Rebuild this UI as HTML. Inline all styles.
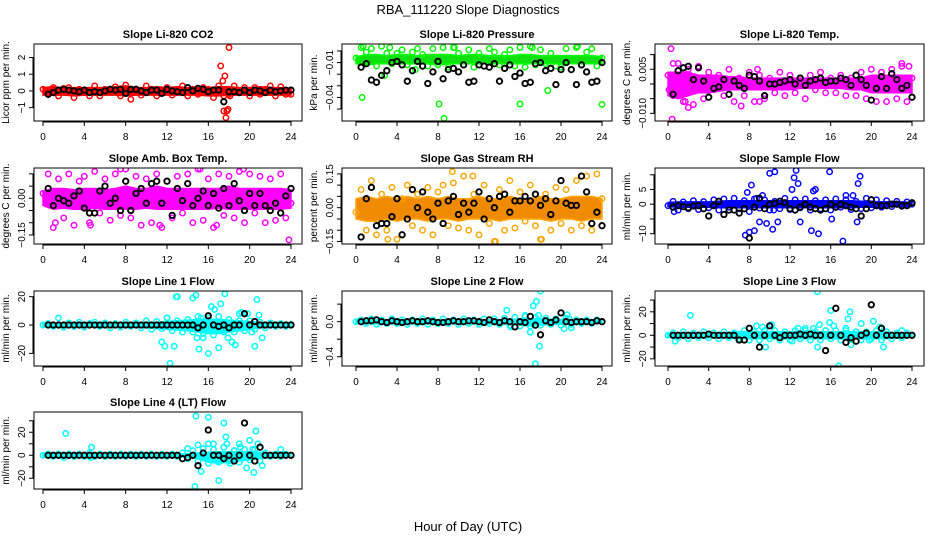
<!DOCTYPE html>
<html><head><meta charset="utf-8"><style>
body{margin:0;background:#fff;}
svg{display:block;font-family:"Liberation Sans",sans-serif;}
</style></head><body>
<svg id="chart" width="936" height="540" viewBox="0 0 936 540" xmlns="http://www.w3.org/2000/svg">
<text x="468" y="14" font-size="13" text-anchor="middle">RBA_111220  Slope Diagnostics</text>
<text x="468" y="531" font-size="13" text-anchor="middle">Hour of Day (UTC)</text>
</svg>
<script>
const xTicks=[0,4,8,12,16,20,24];
const c1=[0.1,-0.2,0.2,-0.3,0.15,0.2,-0.4,0.1,-0.1,-0.3,0.3,-0.3,0.1,0,0.25,-0.3,0.35,-0.5,0.1,-0.25,0.3,0.1,-0.3,0,0.2,-0.25,0.1,0.3,-0.3,0.1,-0.2,0.2,0.1,-0.4,0.3,-0.3,-0.2,0.3,-0.1,0.2,-0.3,0.2,-0.2,0.1,0.3,-0.3,0.25,-0.2,-0.2];
const b1hi=[0.2,0.25,0.2,0.2,0.2,0.2,0.2,0.25,0.3,0.2,0.2,0.25,0.2,0.25,0.2,0.2,0.2,0.25,0.25,0.2,0.2,0.25,0.2,0.2,0.15];
const b1lo=[-0.25,-0.25,-0.25,-0.3,-0.25,-0.25,-0.25,-0.25,-0.3,-0.25,-0.25,-0.25,-0.25,-0.25,-0.25,-0.25,-0.3,-0.3,-0.25,-0.25,-0.25,-0.25,-0.25,-0.25,-0.25];
const o1x=[17.2,17.4,17.6,17.5,17.7,17.8,17.9,18.0,18.1];
const o1y=[1.5,0.6,0.9,-1.2,-1.6,-1.2,-1.1,2.6,-0.3];
const k1=[-0.2,-0.1,0.05,0.1,0.05,0,-0.05,0.05,-0.1,-0.05,-0.1,0,0.1,0.05,0.1,-0.15,0.1,0.1,0,-0.1,0.05,0.05,-0.15,0.1,0,-0.05,-0.1,0.2,0,0.15,0.1,-0.05,0.05,0.05,-0.65,-0.05,-0.05,-0.1,0.05,-0.1,0.05,0,-0.1,0.05,-0.05,0,0.05,0.05];

const c2=[-0.006,0.003,-0.001,0.002,-0.013,0.004,-0.002,-0.011,-0.002,0.001,-0.012,-0.001,0.002,-0.003,-0.013,0.002,-0.012,0.003,-0.014,0.003,-0.002,-0.012,0.001,-0.014,-0.002,-0.013,0.002,-0.001,-0.012,-0.003,0.001,-0.013,0.003,-0.014,0.004,-0.012,0.001,-0.011,-0.002,-0.013,-0.014,0.002,-0.016,0.003,-0.012,-0.001,0.002,-0.013,-0.006];
const b2hi=[-0.005,-0.003,-0.003,-0.004,-0.003,-0.003,-0.004,-0.003,-0.003,-0.003,-0.004,-0.003,-0.003,-0.004,-0.004,-0.004,-0.003,-0.003,-0.004,-0.004,-0.004,-0.004,-0.004,-0.004,-0.005];
const b2lo=[-0.011,-0.012,-0.011,-0.011,-0.011,-0.011,-0.011,-0.011,-0.012,-0.011,-0.011,-0.011,-0.011,-0.011,-0.011,-0.011,-0.011,-0.011,-0.011,-0.011,-0.011,-0.011,-0.011,-0.011,-0.011];
const o2x=[0.6,8.1,8.6,16.0,24.0,18.7,2.8,5.8,0.7,3.3,9.6,17.2,21.6];
const o2y=[-0.040,-0.0457,-0.058,-0.0457,-0.046,-0.034,-0.021,-0.016,0.004,0.003,0.003,0.003,0.004];
const k2=[-0.014,-0.011,-0.025,-0.027,-0.021,-0.017,-0.01,-0.009,-0.012,-0.026,-0.017,-0.009,-0.013,-0.028,-0.018,-0.009,-0.024,-0.016,-0.015,-0.018,-0.012,-0.027,-0.026,-0.012,-0.013,-0.014,-0.011,-0.026,-0.015,-0.012,-0.022,-0.019,-0.028,-0.027,-0.011,-0.010,-0.017,-0.015,-0.029,-0.016,-0.010,-0.016,-0.029,-0.012,-0.018,-0.027,-0.026,-0.010];

const c3=[0.003,-0.004,0.007,-0.006,0.005,-0.007,0.006,-0.005,0.004,-0.002,0.003,-0.004,0.005,-0.006,0.002,-0.004,0.004,-0.006,0.003,-0.005,0.002,-0.003,0.004,-0.004,0.003,-0.003,0.002,-0.005,0.003,-0.002,0.004,-0.003,0.002,-0.003,0.003,-0.004,0.002,-0.004,0.004,-0.005,0.005,-0.006,0.004,-0.006,0.005,-0.005,0.006,-0.006,0.002];
const b3hi=[0.004,0.004,0.004,0.003,0.003,0.003,0.0025,0.0025,0.002,0.002,0.002,0.002,0.002,0.002,0.002,0.002,0.002,0.002,0.002,0.002,0.003,0.003,0.003,0.003,0.003];
const b3lo=[-0.004,-0.005,-0.004,-0.003,-0.003,-0.0025,-0.002,-0.002,-0.002,-0.002,-0.002,-0.002,-0.002,-0.0015,-0.0015,-0.0015,-0.0015,-0.0015,-0.002,-0.002,-0.003,-0.003,-0.003,-0.003,-0.003];
const o3x=[0.3,0.4,0.5,2.0,1.7,7.2,9.0,8.8,23.0,23.7,0.1];
const o3y=[0.012,-0.012,0.007,-0.008,-0.006,-0.0075,-0.006,0.005,0.007,0.006,-0.002];
const k3=[-0.0035,0.0045,0.0055,0.006,0.0015,0.0055,0.001,-0.0045,-0.0015,-0.001,0.0015,-0.0035,0.001,-0.0005,-0.0015,0.003,0.0025,0.001,-0.004,0,0,0.0005,0.001,0.0015,0,0.002,-0.0005,0.001,0.0015,0.002,0.0005,0.001,0.001,0.002,0.0015,-0.0005,0.003,0.0015,-0.0005,-0.0055,-0.0015,0.0025,-0.0015,0.0035,0.0015,-0.0015,-0.0005,-0.0045];

const c4=[0.02,0.1,-0.12,0.08,-0.08,0.1,-0.11,0.07,0.09,-0.1,0.11,-0.06,0.08,-0.09,0.1,-0.07,0.12,-0.08,0.09,-0.11,0.08,-0.1,0.1,-0.12,0.07,-0.08,0.09,-0.06,0.1,-0.1,0.12,-0.09,0.08,-0.12,0.1,-0.07,0.09,-0.08,0.11,-0.1,0.1,-0.06,0.09,-0.1,0.08,-0.09,0.1,-0.08,-0.02];
const b4hi=[0.03,0.04,0.04,0.035,0.04,0.04,0.035,0.04,0.05,0.04,0.04,0.05,0.04,0.04,0.04,0.04,0.04,0.04,0.05,0.04,0.04,0.04,0.04,0.04,0.035];
const b4lo=[-0.03,-0.045,-0.04,-0.045,-0.045,-0.04,-0.045,-0.045,-0.045,-0.045,-0.04,-0.045,-0.045,-0.045,-0.045,-0.045,-0.045,-0.04,-0.045,-0.045,-0.045,-0.045,-0.045,-0.045,-0.04];
const o4x=[23.8,7.5,15.2,19.4,16.8,11.3,4.6,1.2];
const o4y=[-0.17,0.12,0.12,0.12,-0.11,-0.11,-0.11,-0.1];
const k4=[0.04,-0.03,0.0,-0.01,-0.02,0.01,0.03,-0.04,-0.06,-0.06,0.03,0.05,-0.02,0.0,-0.05,0.07,-0.05,0.02,0.04,-0.02,0.06,0.07,-0.02,0.07,-0.07,0.04,-0.01,0.06,-0.03,0.0,0.03,-0.03,0.02,-0.04,0.04,-0.03,0.06,-0.01,-0.05,0.02,-0.03,0.02,-0.03,-0.05,-0.02,-0.06,0.01,0.04];

const c5=[-0.02,0.08,-0.1,0.12,-0.12,0.06,-0.1,0.09,-0.14,0.04,0.1,-0.08,0.06,-0.1,0.09,-0.12,0.07,0.1,-0.08,0.11,-0.09,0.14,-0.1,0.06,-0.12,0.1,-0.07,-0.15,0.08,-0.1,0.12,-0.09,0.07,-0.06,0.1,-0.08,-0.14,0.06,-0.1,0.09,-0.07,0.08,-0.1,0.12,-0.08,0.14,-0.1,0.15,0.04];
const b5hi=[0.04,0.05,0.04,0.05,0.04,0.05,0.04,0.05,0.04,0.05,0.04,0.04,0.05,0.04,0.04,0.05,0.04,0.04,0.05,0.04,0.04,0.05,0.05,0.05,0.04];
const b5lo=[-0.05,-0.06,-0.06,-0.05,-0.06,-0.05,-0.05,-0.06,-0.05,-0.05,-0.06,-0.05,-0.05,-0.05,-0.06,-0.05,-0.05,-0.05,-0.05,-0.06,-0.05,-0.05,-0.06,-0.05,-0.05];
const o5x=[9.4,13.6,18.1,3.1,11.4];
const o5y=[0.16,-0.15,-0.14,-0.14,0.14];
const k5=[-0.13,0.04,0.09,-0.08,-0.07,-0.07,-0.04,0.04,-0.12,-0.05,0.08,0.0,0.07,-0.02,-0.05,0.02,-0.07,0.03,0.05,-0.03,0.02,-0.02,0.02,0.07,-0.05,0.04,0.0,0.05,0.06,-0.02,0.03,0.03,0.05,0.03,0.06,0.01,0.04,-0.03,0.03,0.12,0.02,0.01,0.01,0.14,0.07,-0.07,-0.02,-0.08];

const c6=[-0.5,1,-2,0.8,-1.5,1.2,-1.8,0.9,-1.2,1.5,-2,1.8,-1,2,-1.5,1.2,-2.5,1.8,-1.3,1.5,-2,1,-1.5,2,-1.8,1.5,-1.2,1.8,-2,1.2,-1.5,1.5,-2,1.8,-1,1.5,-1.8,1,-1.5,2,-1.2,1.5,-1,1.2,-0.8,1,-0.7,0.8,0];
const b6hi=[0.6,0.8,0.8,0.8,0.8,1,1.2,1.2,1.2,1.2,1.2,1.2,1.2,1.2,1.2,1.2,1.2,1.2,1.2,1,1,0.8,0.8,0.8,0.6];
const b6lo=[-0.8,-1,-1,-1,-1,-1.2,-1.2,-1.2,-1.2,-1.2,-1.2,-1.2,-1.2,-1.2,-1.2,-1.2,-1.2,-1.2,-1.2,-1,-1,-0.8,-0.8,-0.8,-0.8];
const o6x=[0.6,7.6,8.0,8.2,7.8,8.5,9.0,9.3,9.7,10.0,10.3,10.5,10.8,12.2,12.4,12.6,12.8,13.0,14.1,14.3,14.5,14.8,15.9,16.1,17.2,17.5,18.6,18.7,18.9,18.2,8.7,10.4];
const o6y=[-2.5,-10.5,-9.5,6.5,4,-9,-6,3,-6.5,10.5,-8.5,11,-6,5,9,11.5,7,-6,-9,4.5,5,-10,11,-5,-12.5,3,-6,7,9.5,3,2,-2];
const k6=[-1,-0.5,-0.8,-1.2,-0.6,-0.5,-1.5,-4,-0.5,1,-3.5,-2,-2,-3,-1.5,-11.5,-1,2,-1.5,0,0.3,1,0.5,-1.5,-2,-1,0,-1,-1.5,-2,-1.5,0,-1,0,-0.5,-1,-1.5,-4,-1.5,1.5,-0.5,-0.5,-0.5,0,0,-0.5,-0.5,0.5];

const c7=[0,1,-1,5,-1.5,1.5,-1,2,-1.5,1,2,-1,1.5,-2,1,-1.5,2,-1,1.5,-2,3,-3,2.5,-2.5,5,-4,3,-5,4,-5,6,-6,5,-7,6,-5,4,-5,3,-4,3,-3,2,-2,1.5,-1,1,-1,0.5];
const b7hi=[1,1,1,1,1,1,1,1,1.5,1.5,2,2,2.5,3,3.5,4,4,4,3.5,3,2.5,2,1.5,1.5,1];
const b7lo=[-1,-1,-1,-1,-1,-1,-1,-1,-1.5,-1.5,-2,-2.5,-3,-3.5,-4,-5,-6,-6,-5,-4,-3,-2,-1.5,-1.5,-1];
const o7x=[11.5,11.8,12.3,12.7,12.9,13.0,14.5,14.8,15.1,14.9,15.5,16.0,16.3,16.6,17.0,17.2,17.6,17.9,18.3,18.6,19.0,19.2,19.8,20.2,20.5,20.7,20.9,21.2,12.0,15.3];
const o7y=[-12,-15,-27,-15,20,20,19,21,-17,-9,-9,-20,13,11,-16,15,22,-9,-12,-14,8,9,8,-5,-15,18,7,-9,5,5];
const k7=[0,0,0,0,0,0,0,0,0,0,0,0,0,0,0,0,0,0,0,0,0,0,0,0,0,0,0,0,0,-2,0,6.5,0,-1,0,-2,0,0,8,0,2.5,0,0,0,0,0,0,0];

const c8=[0,0.02,-0.02,0.03,-0.03,0.02,-0.02,0.03,-0.02,0.02,-0.03,0.02,-0.02,0.03,-0.03,0.02,-0.02,0.03,-0.02,0.02,-0.03,0.03,-0.02,0.02,-0.03,0.03,-0.02,0.03,-0.03,0.04,-0.04,0.05,-0.05,0.06,-0.05,0.05,-0.04,0.04,-0.03,0.03,-0.04,0.04,-0.03,0.02,-0.02,0.02,-0.02,0.02,0];
const b8hi=[0.015,0.02,0.02,0.02,0.02,0.02,0.02,0.02,0.02,0.02,0.02,0.02,0.02,0.02,0.02,0.025,0.03,0.035,0.03,0.03,0.025,0.02,0.02,0.02,0.015];
const b8lo=[-0.02,-0.025,-0.025,-0.025,-0.025,-0.025,-0.025,-0.025,-0.025,-0.025,-0.025,-0.025,-0.025,-0.025,-0.025,-0.03,-0.04,-0.05,-0.04,-0.03,-0.03,-0.025,-0.025,-0.025,-0.02];
const o8x=[14.7,15.1,16.5,17.0,17.3,17.5,17.6,17.8,17.9,18.0,20.3,20.6,21.0,20.8];
const o8y=[0.13,-0.06,0.07,-0.12,0.18,-0.48,0.23,0.07,-0.28,0.35,-0.08,0.08,-0.07,0.03];
const k8=[0,0.01,0.01,0.02,0,-0.01,0.01,0,-0.01,0,0.01,0,0,0.01,0,-0.01,-0.01,0,0.01,0,0,0.01,0.01,0,-0.01,0.02,0,-0.01,0.01,0,-0.06,0,-0.01,0.06,-0.04,-0.15,0.01,-0.01,0.02,0.1,0,-0.01,0,0,0,-0.01,0.01,0];

const c9=[0,2,-2,3,-3,2,-2,3,-2,2,-3,3,-2,2,-3,4,-4,3,-4,4,-3,4,-4,3,-4,4,-3,4,-4,3,-4,4,-3,4,-4,4,-3,3,-4,3,-3,4,-4,3,-3,2,-2,2,0];
const b9hi=[1.5,2,2,2,2,2,2.5,3,3,3,3,3,3,3,3,3,3,3,3,3,3,3,2.5,2,1.5];
const b9lo=[-1.5,-2,-2,-2,-2,-2,-2.5,-3,-3,-3,-3,-3,-3,-3,-3,-3,-3,-3,-3,-3,-3,-3,-2.5,-2,-1.5];
const o9x=[2.2,0.7,8.7,9.3,9.0,9.6,10.2,12.2,12.8,13.5,14.3,14.7,14.7,14.9,15.5,15.9,16.0,16.3,16.8,17.5,17.7,17.9,18.0,19.0,19.8,20.2,20.8,21.2,23.0];
const o9y=[17,-5,8,7,-10,-10,9,-5,6,6,6,-10,37,9,-13,11,21,8,-26,6,14,20,-8,10,-4,12,7,-10,4];
const k9=[0,0,0,0,0,0,0,1,0,0,0,0,0,-4,-4,6,0,-10,0,8,0,-2,0,0,0,1,0,1,0,0,-13,0,23,0,-6,-2,-5,0,2,26,0,6,0,0,0,0,0,0];

const c10=[0,1,-1,1,-2,1,-1,1,-1,2,-1,1,-1,1,-1,1,-1,1,-1,1,-1,1,-1,1,-1,1,-1,2,-3,4,-5,6,-7,5,-6,7,-5,4,-6,5,-4,5,-5,2,-1,1,-1,1,0];
const b10hi=[1,1,1,1,1,1,1,1,1,1,1,1,1,1,1.5,2,2.5,3,3,3,3,2.5,1.5,1,1];
const b10lo=[-1,-1,-1,-1,-1,-1,-1,-1,-1,-1,-1,-1,-1,-1,-2,-3,-6,-7,-6,-5,-4,-3,-1.5,-1,-1];
const o10x=[2.2,4.7,14.0,14.7,14.8,15.0,15.3,16.0,16.0,16.5,17.0,17.5,17.7,17.8,18.1,18.5,19.0,19.1,19.7,20.0,20.3,20.4,20.6,20.8,21.2,23.0,4.6];
const o10y=[19,7,6,-27,34,9,-14,33,10,10,-22,28,16,10,-7,4,10,7,-11,13,5,-15,21,10,-9,5,-2];
const k10=[0,0,0,0,0,0,0,0,0,0,0,0,0,0,0,0,0,0,0,0,0,0,0,0,0,0,-3,-2,0,-9,2,22,0,0,-3,0,-5,0,28,0,-5,7,0,0,0,0,0,0];

const cols=[{l:34,r:302,x0:43,x1:291},{l:342,r:612,x0:356,x1:602},{l:655,r:924,x0:668,x1:912}];
const rows=[{t:44,b:121},{t:168,b:244},{t:291,b:366},{t:412,b:489}];
const svg=document.getElementById('chart');
const NS='http://www.w3.org/2000/svg';
function mk(tag,attrs,parent){const e=document.createElementNS(NS,tag);for(const k in attrs)e.setAttribute(k,attrs[k]);(parent||svg).appendChild(e);return e;}

const panels=[
 {name:'co2',title:'Slope Li-820 CO2',ylab:'Licor ppm per min.',r:0,c:0,ymin:-1.80,ymax:2.81,ticks:[-1,0,1,2],labels:['−1','0','1','2'],col:'#ff0000',band:'#ff0000',pts:c1,hi:b1hi,lo:b1lo,ox:o1x,oy:o1y,k:k1},
 {name:'pressure',title:'Slope Li-820 Pressure',ylab:'kPa per min.',r:0,c:1,ymin:-0.0603,ymax:0.006,ticks:[0,-0.01,-0.02,-0.03,-0.04,-0.05],labels:['','−0.01','','','−0.04',''],col:'#00ff00',band:'#10e010',pts:c2,hi:b2hi,lo:b2lo,ox:o2x,oy:o2y,k:k2},
 {name:'li820-temp',title:'Slope Li-820 Temp.',ylab:'degrees C per min.',r:0,c:2,ymin:-0.0126,ymax:0.0136,ticks:[0.01,0.005,0,-0.005,-0.01],labels:['','0.005','','','−0.010'],col:'#ff00ff',band:'#ff00ff',pts:c3,hi:b3hi,lo:b3lo,ox:o3x,oy:o3y,k:k3},
 {name:'amb-box-temp',title:'Slope Amb. Box Temp.',ylab:'degrees C per min.',r:1,c:0,ymin:-0.187,ymax:0.124,ticks:[0.1,0.05,0,-0.05,-0.1,-0.15],labels:['','','0.00','','','−0.15'],col:'#ff00ff',band:'#ff00ff',pts:c4,hi:b4hi,lo:b4lo,ox:o4x,oy:o4y,k:k4},
 {name:'gas-stream-rh',title:'Slope Gas Stream RH',ylab:'percent per min.',r:1,c:1,ymin:-0.161,ymax:0.176,ticks:[0.15,0.1,0.05,0,-0.05,-0.1,-0.15],labels:['0.15','','','0.00','','','−0.15'],col:'#ffa500',band:'#f08a00',pts:c5,hi:b5hi,lo:b5lo,ox:o5x,oy:o5y,k:k5},
 {name:'sample-flow',title:'Slope Sample Flow',ylab:'ml/min per min.',r:1,c:2,ymin:-13.5,ymax:12.3,ticks:[10,5,0,-5,-10],labels:['','5','0','','−10'],col:'#0000ff',band:'#0000ff',pts:c6,hi:b6hi,lo:b6lo,ox:o6x,oy:o6y,k:k6},
 {name:'line1-flow',title:'Slope Line 1 Flow',ylab:'ml/min per min.',r:2,c:0,ymin:-28.9,ymax:24,ticks:[20,0,-20],labels:['20','0','−20'],col:'#00ffff',band:'#00ffff',pts:c7,hi:b7hi,lo:b7lo,ox:o7x,oy:o7y,k:k7},
 {name:'line2-flow',title:'Slope Line 2 Flow',ylab:'ml/min per min.',r:2,c:1,ymin:-0.506,ymax:0.35,ticks:[0.2,0,-0.2,-0.4],labels:['','0.0','','−0.4'],col:'#00ffff',band:'#00ffff',pts:c8,hi:b8hi,lo:b8lo,ox:o8x,oy:o8y,k:k8},
 {name:'line3-flow',title:'Slope Line 3 Flow',ylab:'ml/min per min.',r:2,c:2,ymin:-26.1,ymax:37.7,ticks:[30,20,10,0,-10,-20],labels:['','20','','0','','−20'],col:'#00ffff',band:'#00ffff',pts:c9,hi:b9hi,lo:b9lo,ox:o9x,oy:o9y,k:k9},
 {name:'line4-flow',title:'Slope Line 4 (LT) Flow',ylab:'ml/min per min.',r:3,c:0,ymin:-29.3,ymax:37.6,ticks:[30,20,10,0,-10,-20],labels:['','20','','0','','−20'],col:'#00ffff',band:'#00ffff',pts:c10,hi:b10hi,lo:b10lo,ox:o10x,oy:o10y,k:k10}
];

panels.forEach(p=>{
  const C=cols[p.c],R=rows[p.r];
  const g=mk('g',{});
  
  
  const X=h=>C.x0+(C.x1-C.x0)*h/24;
  const Y=v=>R.b-(v-p.ymin)/(p.ymax-p.ymin)*(R.b-R.t);
  const clipId='clip-'+p.name;
  const cp=mk('clipPath',{id:clipId},g);mk('rect',{x:C.l,y:R.t,width:C.r-C.l,height:R.b-R.t},cp);
  const plot=mk('g',{'clip-path':'url(#'+clipId+')'},g);
  let d='';
  p.hi.forEach((v,i)=>{d+=(i?'L':'M')+X(i).toFixed(1)+','+Y(v).toFixed(1);});
  for(let i=p.lo.length-1;i>=0;i--)d+='L'+X(i).toFixed(1)+','+Y(p.lo[i]).toFixed(1);
  const band=mk('path',{d:d+'Z',fill:p.band,stroke:p.col,'stroke-width':1.5,'stroke-linejoin':'round'},plot);
  
  
  const pt=(h,v,stroke,sw,nm)=>{const c=mk('circle',{cx:X(h).toFixed(1),cy:Y(v).toFixed(1),r:2.7,fill:'none',stroke:stroke,'stroke-width':sw},plot);
    
    };
  p.pts.forEach((v,i)=>pt(i*0.5,v,p.col,1.5,'data-point'));
  p.ox.forEach((h,i)=>pt(h,p.oy[i],p.col,1.5,'outlier-point'));
  p.k.forEach((v,i)=>pt((i+1)*0.5,v,'#000',1.9,'reference-point'));
  const box=mk('rect',{x:C.l,y:R.t,width:C.r-C.l,height:R.b-R.t,fill:'none',stroke:'#000','stroke-width':1},g);
  
  
  const t=mk('text',{x:(C.l+C.r)/2,y:R.t-6,'font-size':11,'font-weight':'bold','text-anchor':'middle'},g);t.textContent=p.title;
  
  
  mk('line',{x1:X(0),x2:X(24),y1:R.b+1,y2:R.b+1,stroke:'#000'},g);
  xTicks.forEach(h=>{mk('line',{x1:X(h),x2:X(h),y1:R.b,y2:R.b+5,stroke:'#000'},g);
    const tl=mk('text',{x:X(h),y:R.b+19,'font-size':10,'text-anchor':'middle'},g);tl.textContent=h;
    
    });
  const yt=p.ticks.map(Y);
  mk('line',{x1:C.l-1,x2:C.l-1,y1:Math.min(...yt),y2:Math.max(...yt),stroke:'#000'},g);
  p.ticks.forEach((v,i)=>{const y=Y(v);mk('line',{x1:C.l-5,x2:C.l,y1:y,y2:y,stroke:'#000'},g);
    if(p.labels[i]){const tl=mk('text',{x:C.l-9,y:y,'font-size':10,'text-anchor':'middle',transform:'rotate(-90 '+(C.l-9)+' '+y+')'},g);tl.textContent=p.labels[i];
    
    }});
  const yl=mk('text',{x:C.l-25,y:(R.t+R.b)/2,'font-size':10,'text-anchor':'middle',transform:'rotate(-90 '+(C.l-25)+' '+((R.t+R.b)/2)+')'},g);yl.textContent=p.ylab;
  
  
});
</script>
</body></html>
